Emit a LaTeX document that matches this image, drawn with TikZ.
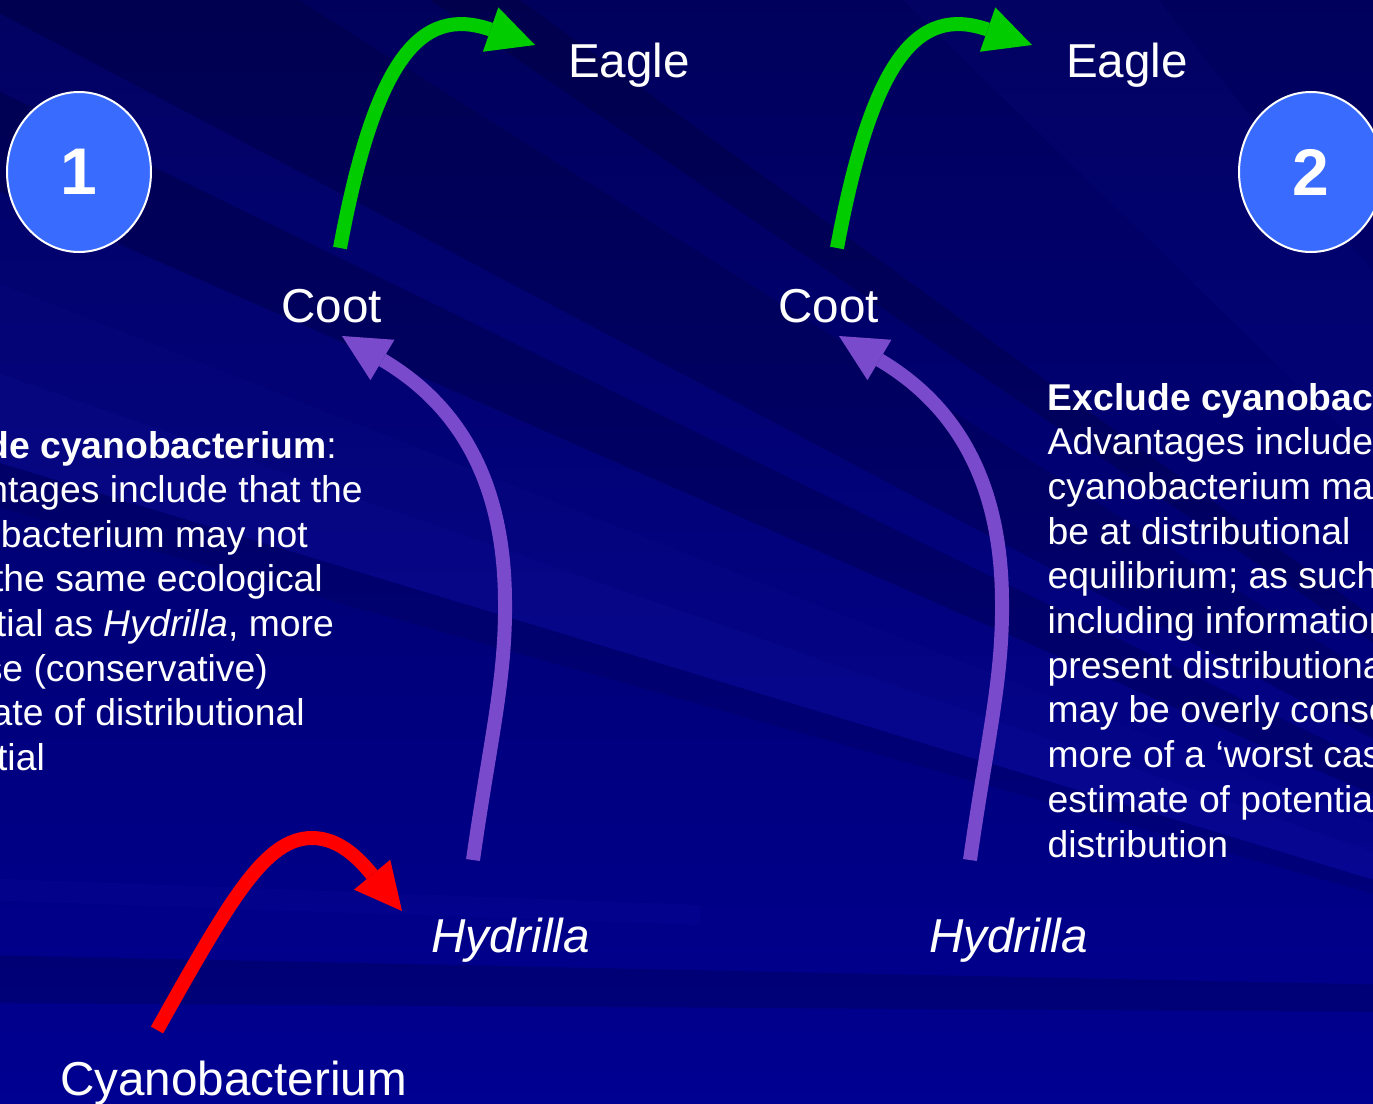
\documentclass[tikz,border=0pt]{standalone}
\usepackage{fontspec}
\setmainfont{Liberation Sans}
\usetikzlibrary{arrows.meta,shapes.geometric}
\definecolor{bgtop}{RGB}{0,0,92}
\definecolor{bgbot}{RGB}{0,0,145}
\definecolor{lightray}{RGB}{40,40,210}
\definecolor{circfill}{RGB}{58,107,255}
\definecolor{arrgreen}{RGB}{0,204,0}
\definecolor{arrpurple}{RGB}{122,74,204}
\definecolor{arrred}{RGB}{255,0,0}
\begin{document}
\begin{tikzpicture}[x=1pt,y=-1pt,
  lbl/.style={text=white, inner sep=0pt, font=\fontsize{47.6}{56}\selectfont},
  body/.style={text=white, inner sep=0pt, font=\fontsize{37.3}{44.6}\selectfont},
  numcirc/.style={ellipse, minimum width=144pt, minimum height=160pt, inner sep=0pt,
    fill=circfill, draw=white, line width=2pt, text=white,
    font=\bfseries\fontsize{66}{70}\selectfont},
  flow/.style={line width=14pt, -{Triangle[length=47pt,width=47pt,line width=0pt]}},
  darkray/.style={fill=black},
  brightray/.style={fill=lightray}
]
\useasboundingbox (0,0) rectangle (1373,1103);
\clip (0,0) rectangle (1373,1103);
% background
\shade[top color=bgtop, bottom color=bgbot] (0,0) rectangle (1373,1103);
\coordinate (P) at (2000,1070);
\fill[brightray, opacity=.06] (P) -- (-20,-1500) -- (-20,-900) -- cycle;
\fill[darkray, opacity=.16] (P) -- (-20,-390) -- (-20,-307) -- cycle;
\fill[darkray, opacity=.12] (P) -- (-20,-200) -- (-20,3) -- cycle;
\fill[brightray, opacity=.06] (P) -- (-20,3) -- (-20,82) -- cycle;
\fill[darkray, opacity=.13] (P) -- (-20,82) -- (-20,183) -- cycle;
\fill[brightray, opacity=.07] (P) -- (-20,183) -- (-20,276) -- cycle;
\fill[brightray, opacity=.10] (P) -- (-20,276) -- (-20,367) -- cycle;
\fill[brightray, opacity=.16] (P) -- (-20,367) -- (-20,457) -- cycle;
\fill[darkray, opacity=.09] (P) -- (-20,457) -- (-20,502) -- cycle;
\fill[brightray, opacity=.06] (-20,878) -- (700,905) -- (700,925) -- (-20,900) -- cycle;
\fill[darkray, opacity=.15] (-20,955) -- (1400,985) -- (1400,1012) -- (-20,1003) -- cycle;

% numbered circles
\node[numcirc] (n1) at (79,172) {1};
\node[numcirc] (n2) at (1311,172) {2};

% labels
\node[lbl, anchor=base west] (eagle1) at (568,77) {Eagle};
\node[lbl, anchor=base west] (eagle2) at (1066,77) {Eagle};
\node[lbl, anchor=base west] (coot1) at (281,322) {Coot};
\node[lbl, anchor=base west] (coot2) at (778,322) {Coot};
\node[lbl, anchor=base west] (hyd1) at (431,952) {\itshape Hydrilla};
\node[lbl, anchor=base west] (hyd2) at (929,952) {\itshape Hydrilla};
\node[lbl, anchor=base west] (cyano) at (60,1095) {Cyanobacterium};

% connectors
\coordinate (g1s) at (340,248);  \coordinate (g1e) at (535,45);
\coordinate (g2s) at (837,248);  \coordinate (g2e) at (1032,45);
\coordinate (p1s) at (473,860);  \coordinate (p1e) at (342,336);
\coordinate (p2s) at (970,860);  \coordinate (p2e) at (839,336);
\coordinate (r1s) at (157,1030); \coordinate (r1e) at (402,911);
\draw[flow, arrgreen] (g1s) .. controls (375,60) and (420,5) .. (g1e);
\draw[flow, arrgreen] (g2s) .. controls (872,60) and (917,5) .. (g2e);
\draw[flow, arrpurple] (p1s) .. controls (490,740) and (506,680) .. (505,600)
   .. controls (504,470) and (450,400) .. (p1e);
\draw[flow, arrpurple] (p2s) .. controls (987,740) and (1003,680) .. (1002,600)
   .. controls (1001,470) and (947,400) .. (p2e);
\draw[flow, arrred] (r1s) .. controls (230,900) and (265,838) .. (312,838)
   .. controls (340,838) and (360,860) .. (r1e);

% left text block (clipped at the left edge)
\node[body, anchor=base east] (l1) at (337,458.0) {\textbf{de cyanobacterium}:};
\node[body, anchor=base east] (l2) at (363,502.6) {ntages include that the};
\node[body, anchor=base east] (l3) at (308,547.2) {bacterium may not};
\node[body, anchor=base east] (l4) at (323,591.8) {the same ecological};
\node[body, anchor=base east] (l5) at (334,636.4) {tial as \textit{Hydrilla}, more};
\node[body, anchor=base east] (l6) at (268,681.0) {se (conservative)};
\node[body, anchor=base east] (l7) at (305,725.6) {ate of distributional};
\node[body, anchor=base east] (l8) at (45,770.2) {tial};

% right text block (clipped at the right edge)
\node[body, anchor=base west] (r1) at (1047.5,410.0) {\textbf{Exclude cyanobact}};
\node[body, anchor=base west] (r2) at (1047.5,454.7) {Advantages include};
\node[body, anchor=base west] (r3) at (1047.5,499.4) {cyanobacterium may};
\node[body, anchor=base west] (r4) at (1047.5,544.1) {be at distributional};
\node[body, anchor=base west] (r5) at (1047.5,588.8) {equilibrium; as such};
\node[body, anchor=base west] (r6) at (1047.5,633.5) {including information};
\node[body, anchor=base west] (r7) at (1047.5,678.2) {present distributional};
\node[body, anchor=base west] (r8) at (1047.5,722.9) {may be overly conse};
\node[body, anchor=base west] (r9) at (1047.5,767.6) {more of a ‘worst cas};
\node[body, anchor=base west] (r10) at (1047.5,812.3) {estimate of potential};
\node[body, anchor=base west] (r11) at (1047.5,857.0) {distribution};
\end{tikzpicture}
\end{document}
